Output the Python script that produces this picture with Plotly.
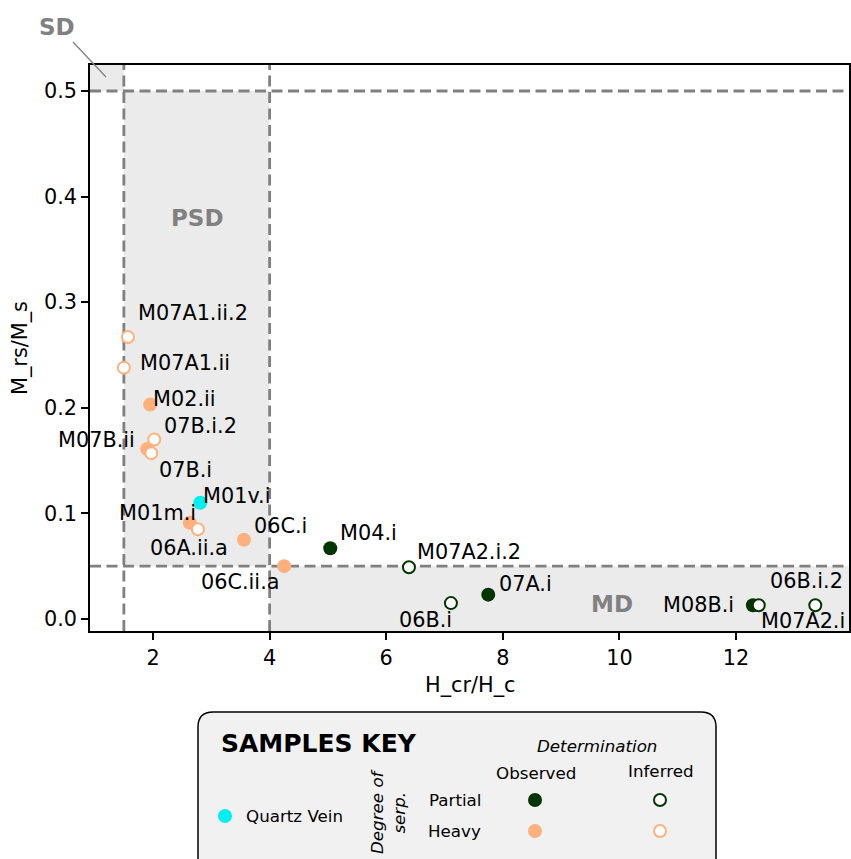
import plotly.graph_objects as go

# ---------------- data ----------------
names = ["M07A1.ii.2", "M07A1.ii", "M02.ii", "07B.i.2", "M07B.ii", "07B.i",
         "M01v.i", "M01m.i", "06A.ii.a", "06C.i", "06C.ii.a", "M04.i",
         "M07A2.i.2", "06B.i", "07A.i", "M08B.i", "M07A2.i", "06B.i.2"]
hcr_hc = [1.57, 1.50, 1.95, 2.02, 1.90, 1.97,
          2.81, 2.63, 2.77, 3.56, 4.25, 5.04,
          6.39, 7.11, 7.75, 12.29, 12.39, 13.36]
mrs_ms = [0.267, 0.238, 0.203, 0.170, 0.161, 0.157,
          0.110, 0.091, 0.085, 0.075, 0.050, 0.067,
          0.049, 0.015, 0.023, 0.013, 0.013, 0.013]
serp = ["Heavy", "Heavy", "Heavy", "Heavy", "Heavy", "Heavy",
        "Quartz", "Heavy", "Heavy", "Heavy", "Heavy", "Partial",
        "Partial", "Partial", "Partial", "Partial", "Partial", "Partial"]
determination = ["Inferred", "Inferred", "Observed", "Inferred", "Observed", "Inferred",
                 "Observed", "Observed", "Inferred", "Observed", "Observed", "Observed",
                 "Inferred", "Inferred", "Observed", "Observed", "Inferred", "Inferred"]

x_ticks = [2, 4, 6, 8, 10, 12]
y_ticks = [0.0, 0.1, 0.2, 0.3, 0.4, 0.5]
X_RANGE = [0.919, 13.938]
Y_RANGE = [-0.0114, 0.5246]
SD_X, PSD_X = 1.5, 4.0
Y_HIGH, Y_LOW = 0.5, 0.05

# ---------------- styles ----------------
COLORS = {"Heavy": "#ffb07c", "Partial": "#033500", "Quartz": "#00f0f0"}
FONT = "DejaVu Sans"
FS = 20.8
GRAY = "#808080"
SHADE = "#ebebeb"
W, H = 851, 859

# label placement: (anchor, dx px, dy px (down positive))
label_pos = {
    "M07A1.ii.2": ("left", 8, -24), "M07A1.ii": ("left", 14, -5),
    "M02.ii": ("left", 1, -6), "07B.i.2": ("left", 8, -13),
    "M07B.ii": ("right", -10, -9), "07B.i": ("left", 6, 17),
    "M01v.i": ("left", 1, -7), "M01m.i": ("right", 8, -10),
    "06A.ii.a": ("center", -9, 19), "06C.i": ("left", 8, -14),
    "06C.ii.a": ("right", -2, 16), "M04.i": ("left", 8, -15),
    "M07A2.i.2": ("left", 6, -15), "06B.i": ("right", 3, 17),
    "07A.i": ("left", 9, -11), "M08B.i": ("right", -17, 0),
    "M07A2.i": ("left", 0, 16), "06B.i.2": ("right", 30, -24),
}


def px(x):
    return x / W


def py(y):
    return 1 - y / H


fig = go.Figure()


def marker_style(s, d):
    c = COLORS[s]
    if d == "Observed":
        return dict(size=14, color=c, line=dict(width=0, color=c))
    return dict(size=12, color="white", line=dict(width=2, color=c))


groups = [("Quartz", "Observed"), ("Heavy", "Observed"), ("Heavy", "Inferred"),
          ("Partial", "Observed"), ("Partial", "Inferred")]
for s, d in groups:
    idx = [i for i in range(len(names)) if serp[i] == s and determination[i] == d]
    fig.add_trace(go.Scatter(
        x=[hcr_hc[i] for i in idx], y=[mrs_ms[i] for i in idx],
        text=[names[i] for i in idx], mode="markers",
        marker=marker_style(s, d), showlegend=False, hoverinfo="text",
        xaxis="x", yaxis="y", cliponaxis=False))

# point labels
annotations = []
for n, xv, yv in zip(names, hcr_hc, mrs_ms):
    anc, dx, dy = label_pos[n]
    annotations.append(dict(x=xv, y=yv, xref="x", yref="y", text=n, showarrow=False,
                            xanchor=anc, yanchor="middle", xshift=dx, yshift=-dy,
                            font=dict(family=FONT, size=FS, color="black")))

# region shading + dashed boundaries
shapes = [
    dict(type="rect", xref="x", yref="y", x0=X_RANGE[0], x1=SD_X, y0=Y_HIGH, y1=Y_RANGE[1],
         fillcolor=SHADE, line=dict(width=0), layer="below"),
    dict(type="rect", xref="x", yref="y", x0=SD_X, x1=PSD_X, y0=Y_LOW, y1=Y_HIGH,
         fillcolor=SHADE, line=dict(width=0), layer="below"),
    dict(type="rect", xref="x", yref="y", x0=PSD_X, x1=X_RANGE[1], y0=Y_RANGE[0], y1=Y_LOW,
         fillcolor=SHADE, line=dict(width=0), layer="below"),
]
dash = dict(color=GRAY, width=2.8, dash="11px,5.5px")
for yv in (Y_HIGH, Y_LOW):
    shapes.append(dict(type="line", xref="x", yref="y", x0=X_RANGE[0], x1=X_RANGE[1],
                       y0=yv, y1=yv, line=dash, layer="below"))
for xv in (SD_X, PSD_X):
    shapes.append(dict(type="line", xref="x", yref="y", x0=xv, x1=xv,
                       y0=Y_RANGE[0], y1=Y_RANGE[1], line=dash, layer="below"))

# SD pointer line
shapes.append(dict(type="line", xref="paper", yref="paper", x0=px(73), y0=py(42),
                   x1=px(106), y1=py(77), line=dict(color=GRAY, width=1.3)))

region_font = dict(family=FONT, size=23, color=GRAY)
annotations += [
    dict(x=px(57), y=py(27), xref="paper", yref="paper", text="<b>SD</b>", showarrow=False,
         xanchor="center", yanchor="middle", font=region_font),
    dict(x=2.755, y=0.38, xref="x", yref="y", text="<b>PSD</b>", showarrow=False,
         xanchor="center", yanchor="middle", font=region_font),
    dict(x=9.87, y=0.014, xref="x", yref="y", text="<b>MD</b>", showarrow=False,
         xanchor="center", yanchor="middle", font=region_font),
]

# axis titles
annotations += [
    dict(x=px(470), y=py(685), xref="paper", yref="paper", text="H_cr/H_c", showarrow=False,
         xanchor="center", yanchor="middle", font=dict(family=FONT, size=FS, color="black")),
    dict(x=px(20), y=py(348), xref="paper", yref="paper", text="M_rs/M_s", showarrow=False,
         xanchor="center", yanchor="middle", textangle=-90,
         font=dict(family=FONT, size=FS, color="black")),
]

# ---------------- samples key box ----------------
x0b, x1b, y0b, y1b, r = 198, 716, 712, 900, 15
rx, ry = r / W, r / H
path = (f"M {px(x0b)+rx},{py(y0b)} L {px(x1b)-rx},{py(y0b)} "
        f"Q {px(x1b)},{py(y0b)} {px(x1b)},{py(y0b)-ry} "
        f"L {px(x1b)},{py(y1b)+ry} Q {px(x1b)},{py(y1b)} {px(x1b)-rx},{py(y1b)} "
        f"L {px(x0b)+rx},{py(y1b)} Q {px(x0b)},{py(y1b)} {px(x0b)},{py(y1b)+ry} "
        f"L {px(x0b)},{py(y0b)-ry} Q {px(x0b)},{py(y0b)} {px(x0b)+rx},{py(y0b)} Z")
shapes.append(dict(type="path", xref="paper", yref="paper", path=path,
                   fillcolor="#f1f1f1", line=dict(color="black", width=1.5), layer="below"))

kf = 16.7
key_texts = [
    (219, 743, "<b>SAMPLES KEY</b>", "left", 25, 0),
    (597, 746, "<i>Determination</i>", "center", kf, 0),
    (536, 773, "Observed", "center", kf, 0),
    (661, 771, "Inferred", "center", kf, 0),
    (455, 800, "Partial", "center", kf, 0),
    (454, 831, "Heavy", "center", kf, 0),
    (244, 816, "Quartz Vein", "left", kf, 0),
    (388, 812, "<i>Degree of<br>serp.</i>", "center", kf, -90),
]
for kx, ky, t, anc, size, ang in key_texts:
    annotations.append(dict(x=px(kx), y=py(ky), xref="paper", yref="paper", text=t,
                            showarrow=False, xanchor=anc, yanchor="middle", textangle=ang,
                            font=dict(family=FONT, size=size, color="black")))

# key markers (on an overlay pixel axis)
key_markers = [(225, 816, "Quartz", "Observed"), (535, 800, "Partial", "Observed"),
               (660, 800, "Partial", "Inferred"), (535, 831, "Heavy", "Observed"),
               (660, 831, "Heavy", "Inferred")]
for kx, ky, s, d in key_markers:
    ms = marker_style(s, d)
    fig.add_trace(go.Scatter(x=[kx], y=[ky], mode="markers", marker=ms, showlegend=False,
                             hoverinfo="skip", xaxis="x2", yaxis="y2"))

axis_common = dict(showline=True, linecolor="black", linewidth=1.7, mirror=True,
                   ticks="outside", ticklen=7, tickwidth=1.7, tickcolor="black",
                   showgrid=False, zeroline=False,
                   tickfont=dict(family=FONT, size=FS, color="black"))

fig.update_layout(
    width=W, height=H,
    margin=dict(l=0, r=0, t=0, b=0),
    paper_bgcolor="white", plot_bgcolor="rgba(0,0,0,0)",
    font=dict(family=FONT, color="black"),
    xaxis=dict(domain=[px(90), px(849)], range=X_RANGE, tickvals=x_ticks,
               anchor="y", **axis_common),
    yaxis=dict(domain=[py(631), py(65)], range=Y_RANGE, tickvals=y_ticks, tickformat=".1f",
               anchor="x", **axis_common),
    xaxis2=dict(domain=[0, 1], range=[0, W], visible=False, anchor="y2", fixedrange=True),
    yaxis2=dict(domain=[0, 1], range=[H, 0], visible=False, anchor="x2", fixedrange=True),
    shapes=shapes, annotations=annotations,
)

fig.write_html("out.html")
